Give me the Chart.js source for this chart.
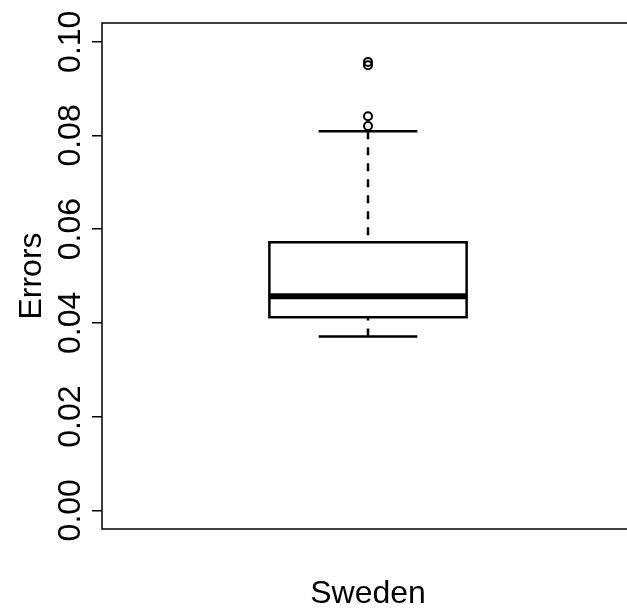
<!DOCTYPE html>
<html>
<head>
<meta charset="utf-8">
<script src="https://cdn.jsdelivr.net/npm/chart.js@4.4.1/dist/chart.umd.min.js"></script>
<style>
  html, body { margin: 0; padding: 0; background: #fff; }
  #wrap { width: 627px; height: 610px; overflow: hidden; }
</style>
</head>
<body>
<div id="wrap"><canvas id="boxChart" width="640" height="610"></canvas></div>
<script>
// boxplot statistics for each group
const groups = ["Sweden"];
const lowerWhisker = [0.0371];
const lowerHinge = [0.0412];
const medians = [0.0457];
const upperHinge = [0.0572];
const upperWhisker = [0.0809];
const outliers = [[0.0820, 0.0841, 0.0950, 0.0957]];

const yTicks = [0.00, 0.02, 0.04, 0.06, 0.08, 0.10];
const yTitle = "Errors";

const FONT = "32px 'Liberation Sans', Arial, sans-serif";

const outlierPoints = [];
outliers.forEach((vals, i) => vals.forEach(v => outlierPoints.push({ x: i + 1, y: v })));

// box, median and dashed whiskers, drawn under the outlier points
const boxPlugin = {
  id: "boxes",
  beforeDatasetsDraw(chart) {
    const { ctx, scales: { x, y } } = chart;
    ctx.save();
    ctx.strokeStyle = "#000";
    groups.forEach((g, i) => {
      const c = i + 1;
      const bl = x.getPixelForValue(c - 0.4), br = x.getPixelForValue(c + 0.4);
      const cl = x.getPixelForValue(c - 0.2), cr = x.getPixelForValue(c + 0.2);
      const cx = x.getPixelForValue(c);

      // whiskers run from the ends toward the hinges
      ctx.lineWidth = 2.5;
      ctx.setLineDash([8, 8]);
      ctx.beginPath();
      ctx.moveTo(cx, y.getPixelForValue(lowerWhisker[i]));
      ctx.lineTo(cx, y.getPixelForValue(lowerHinge[i]));
      ctx.moveTo(cx, y.getPixelForValue(upperWhisker[i]));
      ctx.lineTo(cx, y.getPixelForValue(upperHinge[i]));
      ctx.stroke();
      ctx.setLineDash([]);

      // caps
      ctx.beginPath();
      ctx.moveTo(cl, y.getPixelForValue(lowerWhisker[i]));
      ctx.lineTo(cr, y.getPixelForValue(lowerWhisker[i]));
      ctx.moveTo(cl, y.getPixelForValue(upperWhisker[i]));
      ctx.lineTo(cr, y.getPixelForValue(upperWhisker[i]));
      ctx.stroke();

      // box
      const top = y.getPixelForValue(upperHinge[i]);
      const bot = y.getPixelForValue(lowerHinge[i]);
      ctx.fillStyle = "#fff";
      ctx.fillRect(bl, top, br - bl, bot - top);
      ctx.lineWidth = 2.5;
      ctx.strokeRect(bl, top, br - bl, bot - top);

      // median
      ctx.lineWidth = 6;
      ctx.beginPath();
      ctx.moveTo(bl, y.getPixelForValue(medians[i]));
      ctx.lineTo(br, y.getPixelForValue(medians[i]));
      ctx.stroke();
    });
    ctx.restore();
  },
  afterDraw(chart) {
    const { ctx, chartArea: a, scales: { x, y } } = chart;
    ctx.save();
    // plot frame
    ctx.strokeStyle = "#000";
    ctx.lineWidth = 1.5;
    ctx.strokeRect(a.left, a.top, a.right - a.left, a.bottom - a.top);

    ctx.fillStyle = "#000";
    ctx.font = FONT;
    ctx.textAlign = "center";
    ctx.textBaseline = "alphabetic";

    // y tick labels, parallel to the axis
    y.ticks.forEach(t => {
      ctx.save();
      ctx.translate(a.left - 22, y.getPixelForValue(t.value));
      ctx.rotate(-Math.PI / 2);
      ctx.fillText(t.value.toFixed(2), 0, 0);
      ctx.restore();
    });

    // axis titles
    ctx.save();
    ctx.translate(a.left - 61, (a.top + a.bottom) / 2);
    ctx.rotate(-Math.PI / 2);
    ctx.fillText(yTitle, 0, 0);
    ctx.restore();

    groups.forEach((g, i) => {
      ctx.fillText(g, x.getPixelForValue(i + 1), a.bottom + 74);
    });
    ctx.restore();
  }
};

new Chart(document.getElementById("boxChart"), {
  type: "scatter",
  data: {
    datasets: [{
      data: outlierPoints,
      pointStyle: "circle",
      pointRadius: 4,
      pointHoverRadius: 4,
      borderColor: "#000",
      backgroundColor: "rgba(0,0,0,0)",
      borderWidth: 2
    }]
  },
  options: {
    responsive: false,
    animation: false,
    devicePixelRatio: 1,
    layout: { padding: { top: 23, bottom: 81, left: 0, right: 4 } },
    plugins: { legend: { display: false }, tooltip: { enabled: false } },
    scales: {
      x: { type: "linear", display: false, min: -0.0788, max: 2.0788 },
      y: {
        type: "linear",
        min: -0.004,
        max: 0.104,
        afterBuildTicks: s => { s.ticks = yTicks.map(v => ({ value: v })); },
        afterFit: s => { s.width = 102; },
        ticks: { display: false },
        border: { display: false },
        grid: { drawOnChartArea: false, drawTicks: true, tickLength: 10, color: "#000", lineWidth: 1.5 }
      }
    }
  },
  plugins: [boxPlugin]
});
</script>
</body>
</html>
